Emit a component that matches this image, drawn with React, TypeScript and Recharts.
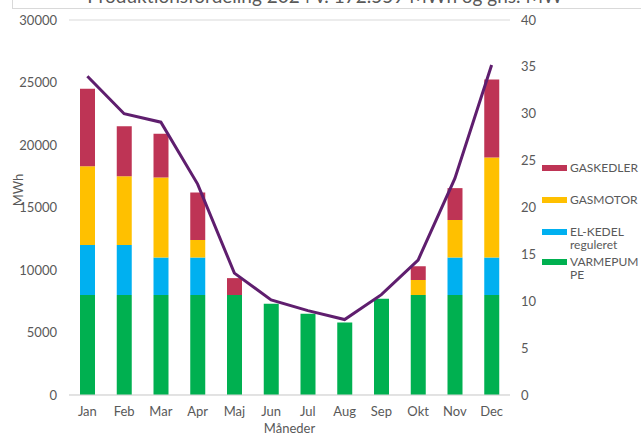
import React from "react";
import {
  ComposedChart,
  Bar,
  Line,
  XAxis,
  YAxis,
  CartesianGrid,
} from "recharts";

const months = ["Jan", "Feb", "Mar", "Apr", "Maj", "Jun", "Jul", "Aug", "Sep", "Okt", "Nov", "Dec"];

// MWh per måned
const varmepumpe = [8000, 8000, 8000, 8000, 8000, 7300, 6500, 5800, 7700, 8000, 8000, 8000];
const elKedel = [4000, 4000, 3000, 3000, 0, 0, 0, 0, 0, 0, 3000, 3000];
const gasmotor = [6300, 5500, 6400, 1400, 0, 0, 0, 0, 0, 1200, 3000, 8000];
const gaskedler = [6200, 4000, 3500, 3800, 1350, 0, 0, 0, 0, 1100, 2550, 6250];

// gns. MW
const gnsMW = [34, 30, 29.1, 22.5, 13, 10.15, 9, 8.05, 10.7, 14.4, 23.1, 35.2];

const leftTicks = [0, 5000, 10000, 15000, 20000, 25000, 30000];
const rightTicks = [0, 5, 10, 15, 20, 25, 30, 35, 40];

const TITLE = "Produktionsfordeling 2024 v. 172.559 MWh og gns. MW";

const FONT = "Lato, 'Open Sans', sans-serif";
const TEXT = "#595959";

// legend rows: y = centre of the colour swatch
const series = [
  { key: "varmepumpe", name: "VARMEPUMPE", lines: ["VARMEPUM", "PE"], color: "#00b050", y: 262 },
  { key: "elKedel", name: "EL-KEDEL reguleret", lines: ["EL-KEDEL", "reguleret"], color: "#00b0f0", y: 232 },
  { key: "gasmotor", name: "GASMOTOR", lines: ["GASMOTOR"], color: "#ffc000", y: 200 },
  { key: "gaskedler", name: "GASKEDLER", lines: ["GASKEDLER"], color: "#be3455", y: 168 },
];

const data = months.map((m, i) => ({
  month: m,
  varmepumpe: varmepumpe[i],
  elKedel: elKedel[i],
  gasmotor: gasmotor[i],
  gaskedler: gaskedler[i],
  mw: gnsMW[i],
}));

export default function App() {
  const tick = { fill: TEXT, fontSize: 13, fontFamily: FONT };
  return (
    <div style={{ position: "absolute", left: 0, top: 0, width: 641, height: 438, background: "#fff", overflow: "hidden", fontFamily: FONT }}>
      {/* title frame, cut at top */}
      <div style={{ position: "absolute", left: 12, top: -20, width: 640, height: 29, border: "1px solid #d9d9d9", boxSizing: "border-box" }} />
      <div style={{ position: "absolute", left: 0, width: 650, top: -16, textAlign: "center", fontSize: 19, lineHeight: "23px", color: TEXT }}>
        {TITLE}
      </div>

      <ComposedChart width={641} height={438} data={data} margin={{ top: 20, right: 0, bottom: 0, left: 0 }}>
        <CartesianGrid vertical={false} stroke="#d9d9d9" />
        <XAxis
          dataKey="month"
          tickLine={false}
          axisLine={{ stroke: "#d9d9d9" }}
          tick={tick}
          tickMargin={6}
          height={43}
          label={{ value: "Måneder", position: "insideBottom", offset: 5, fill: TEXT, fontSize: 13, fontFamily: FONT }}
        />
        <YAxis
          yAxisId="left"
          width={69}
          domain={[0, 30000]}
          ticks={leftTicks}
          tickLine={false}
          axisLine={false}
          tick={tick}
          tickMargin={6}
        />
        <YAxis
          yAxisId="right"
          orientation="right"
          width={131}
          domain={[0, 40]}
          ticks={rightTicks}
          tickLine={false}
          axisLine={false}
          tick={{ ...tick, textAnchor: "start" }}
          tickMargin={5}
        />
        {series.map((s) => (
          <Bar
            key={s.key}
            yAxisId="left"
            dataKey={s.key}
            name={s.name}
            stackId="prod"
            fill={s.color}
            barSize={15}
            isAnimationActive={false}
          />
        ))}
        <Line
          yAxisId="right"
          dataKey="mw"
          name="gns. MW"
          stroke="#5f1e6e"
          strokeWidth={3}
          dot={false}
          type="linear"
          isAnimationActive={false}
        />
      </ComposedChart>

      {/* y axis title */}
      <div style={{ position: "absolute", left: 18, top: 190, transform: "translate(-50%, -50%) rotate(-90deg)", fontSize: 13, color: TEXT }}>
        MWh
      </div>

      {/* legend */}
      {series.map((s) => (
        <div key={s.key} style={{ position: "absolute", left: 542, top: s.y }}>
          <div style={{ position: "absolute", left: 0, top: -3, width: 25, height: 6, background: s.color }} />
          <div style={{ position: "absolute", left: 28, top: -7, fontSize: 12, lineHeight: "13px", color: TEXT, whiteSpace: "nowrap" }}>
            {s.lines.map((l) => (
              <div key={l}>{l}</div>
            ))}
          </div>
        </div>
      ))}
    </div>
  );
}
